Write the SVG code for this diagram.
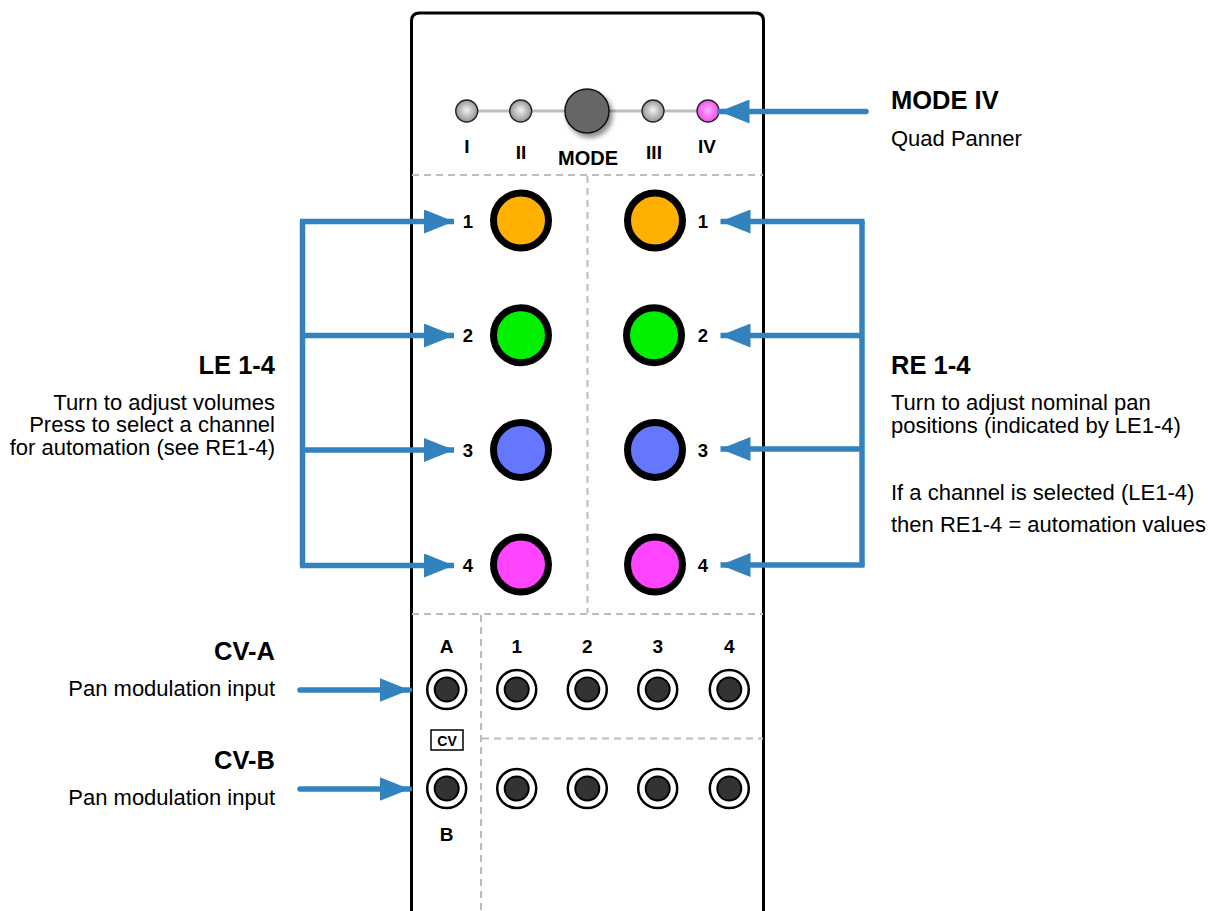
<svg xmlns="http://www.w3.org/2000/svg" width="1216" height="911" viewBox="0 0 1216 911">
<defs>
<radialGradient id="gLed" cx="50%" cy="50%" r="55%" fx="50%" fy="45%">
<stop offset="0" stop-color="#f4f4f4"/>
<stop offset="1" stop-color="#8a8a8a"/>
</radialGradient>
<radialGradient id="pLed" cx="50%" cy="50%" r="55%" fx="50%" fy="45%">
<stop offset="0" stop-color="#ffb0ff"/>
<stop offset="1" stop-color="#ee44ee"/>
</radialGradient>
<filter id="shadow" x="-50%" y="-50%" width="200%" height="200%">
<feDropShadow dx="3" dy="4" stdDeviation="2.5" flood-color="#000" flood-opacity="0.45"/>
</filter>
<marker id="ah" viewBox="0 0 30 24" refX="30" refY="12" markerWidth="30" markerHeight="24" markerUnits="userSpaceOnUse" orient="auto">
<path d="M0,0 L30,12 L0,24 Z" fill="#3182bd"/>
</marker>
</defs>
<style>
.t{font-family:"Liberation Sans",Arial,Helvetica,sans-serif;fill:#000}
.b{font-weight:bold}
.title{font-size:25.5px;font-weight:bold}
.desc{font-size:22px}
.lbl{font-size:19px;font-weight:bold;text-anchor:middle}
.num{font-size:18.5px;font-weight:bold;text-anchor:middle}
.dash{stroke:#bdbdbd;stroke-width:2;stroke-dasharray:7,5;fill:none}
.knob{stroke:#000;stroke-width:7}
.jo{fill:#fff;stroke:#000;stroke-width:2.5}
.ji{fill:#333;stroke:#000;stroke-width:2}
.led{stroke:#222;stroke-width:1.3}
.conn{stroke:#3182bd;stroke-width:5.5;fill:none}
</style>
<rect width="1216" height="911" fill="#fff"/>

<g id="panel">
<path d="M411.5,930 L411.5,21 Q411.5,13 419.5,13 L755.5,13 Q763.5,13 763.5,21 L763.5,930" fill="#fff" stroke="#000" stroke-width="3"/>
<line class="dash" x1="412" y1="175" x2="763" y2="175"/>
<line class="dash" x1="587.5" y1="176" x2="587.5" y2="613"/>
<line class="dash" x1="412" y1="614" x2="763" y2="614"/>
<line class="dash" x1="481" y1="615" x2="481" y2="911"/>
<line class="dash" x1="482" y1="738.5" x2="763" y2="738.5"/>
</g>

<g id="mode-selector">
<line x1="467" y1="111" x2="708" y2="111" stroke="#bdbdbd" stroke-width="3"/>
<circle class="led" cx="466.7" cy="111" r="11" fill="url(#gLed)"/>
<circle class="led" cx="520.7" cy="111" r="11" fill="url(#gLed)"/>
<circle cx="587" cy="111" r="22" fill="#666" stroke="#111" stroke-width="1.5" filter="url(#shadow)"/>
<circle class="led" cx="653" cy="111" r="11" fill="url(#gLed)"/>
<circle class="led" cx="708" cy="111" r="11" fill="url(#pLed)"/>
<text class="t lbl" x="467" y="153">I</text>
<text class="t lbl" x="521" y="159">II</text>
<text class="t lbl" x="588" y="165" style="font-size:20px">MODE</text>
<text class="t lbl" x="654" y="159">III</text>
<text class="t lbl" x="707" y="153">IV</text>
</g>

<g id="left-encoders">
<circle class="knob" cx="521" cy="220.5" r="27.5" fill="#ffb000"/>
<circle class="knob" cx="521" cy="335.2" r="27.5" fill="#00f000"/>
<circle class="knob" cx="521" cy="449.9" r="27.5" fill="#6677ff"/>
<circle class="knob" cx="521" cy="564.6" r="27.5" fill="#ff44ff"/>
<text class="t num" x="468" y="227.5">1</text>
<text class="t num" x="468" y="342">2</text>
<text class="t num" x="468" y="457">3</text>
<text class="t num" x="468" y="571.5">4</text>
</g>

<g id="right-encoders">
<circle class="knob" cx="655" cy="220.5" r="27.5" fill="#ffb000"/>
<circle class="knob" cx="654" cy="335.2" r="27.5" fill="#00f000"/>
<circle class="knob" cx="655" cy="449.9" r="27.5" fill="#6677ff"/>
<circle class="knob" cx="655" cy="564.6" r="27.5" fill="#ff44ff"/>
<text class="t num" x="703" y="227.5">1</text>
<text class="t num" x="703" y="342">2</text>
<text class="t num" x="703" y="457">3</text>
<text class="t num" x="703" y="571.5">4</text>
</g>

<g id="jacks">
<text class="t lbl" x="446.7" y="653.3">A</text>
<text class="t lbl" x="516.7" y="653.3">1</text>
<text class="t lbl" x="587.3" y="653.3">2</text>
<text class="t lbl" x="657.7" y="653.3">3</text>
<text class="t lbl" x="729.3" y="653.3">4</text>
<circle class="jo" cx="446.7" cy="689.5" r="19.5"/><circle class="ji" cx="446.7" cy="689.5" r="12"/>
<circle class="jo" cx="516.7" cy="689.5" r="19.5"/><circle class="ji" cx="516.7" cy="689.5" r="12"/>
<circle class="jo" cx="587.3" cy="689.5" r="19.5"/><circle class="ji" cx="587.3" cy="689.5" r="12"/>
<circle class="jo" cx="657.7" cy="689.5" r="19.5"/><circle class="ji" cx="657.7" cy="689.5" r="12"/>
<circle class="jo" cx="729.3" cy="689.5" r="19.5"/><circle class="ji" cx="729.3" cy="689.5" r="12"/>
<rect x="431" y="730" width="32" height="20" fill="#fff" stroke="#000" stroke-width="1.5"/>
<text class="t b" x="447" y="746" text-anchor="middle" style="font-size:14px">CV</text>
<circle class="jo" cx="446.7" cy="788.5" r="19.5"/><circle class="ji" cx="446.7" cy="788.5" r="12"/>
<circle class="jo" cx="516.7" cy="788.5" r="19.5"/><circle class="ji" cx="516.7" cy="788.5" r="12"/>
<circle class="jo" cx="587.3" cy="788.5" r="19.5"/><circle class="ji" cx="587.3" cy="788.5" r="12"/>
<circle class="jo" cx="657.7" cy="788.5" r="19.5"/><circle class="ji" cx="657.7" cy="788.5" r="12"/>
<circle class="jo" cx="729.3" cy="788.5" r="19.5"/><circle class="ji" cx="729.3" cy="788.5" r="12"/>
<text class="t lbl" x="446.7" y="840.7">B</text>
</g>

<g id="connectors">
<path class="conn" d="M302.5,221 V566"/>
<line class="conn" x1="300" y1="221.5" x2="454" y2="221.5" marker-end="url(#ah)"/>
<line class="conn" x1="302.5" y1="335.5" x2="454" y2="335.5" marker-end="url(#ah)"/>
<line class="conn" x1="302.5" y1="450" x2="454" y2="450" marker-end="url(#ah)"/>
<line class="conn" x1="300" y1="565.5" x2="454" y2="565.5" marker-end="url(#ah)"/>
<path class="conn" d="M862,221 V566"/>
<line class="conn" x1="864.5" y1="221.5" x2="720.5" y2="221.5" marker-end="url(#ah)"/>
<line class="conn" x1="862" y1="335.5" x2="720.5" y2="335.5" marker-end="url(#ah)"/>
<line class="conn" x1="862" y1="449" x2="720.5" y2="449" marker-end="url(#ah)"/>
<line class="conn" x1="864.5" y1="565" x2="720.5" y2="565" marker-end="url(#ah)"/>
<line class="conn" x1="866" y1="111.5" x2="719.5" y2="111.5" stroke-linecap="round" marker-end="url(#ah)"/>
<line class="conn" x1="300" y1="690" x2="409.5" y2="690" stroke-linecap="round" marker-end="url(#ah)"/>
<line class="conn" x1="300" y1="789" x2="409.5" y2="789" stroke-linecap="round" marker-end="url(#ah)"/>
</g>

<g id="label-mode-iv">
<text class="t title" x="891" y="109">MODE IV</text>
<text class="t desc" x="891" y="146">Quad Panner</text>
</g>

<g id="label-le">
<text class="t title" x="275" y="374" text-anchor="end">LE 1-4</text>
<text class="t desc" x="275" y="409.5" text-anchor="end">Turn to adjust volumes</text>
<text class="t desc" x="275" y="432.3" text-anchor="end">Press to select a channel</text>
<text class="t desc" x="275" y="455" text-anchor="end">for automation (see RE1-4)</text>
</g>

<g id="label-re">
<text class="t title" x="891" y="374">RE 1-4</text>
<text class="t desc" x="891" y="409.5">Turn to adjust nominal pan</text>
<text class="t desc" x="891" y="433">positions (indicated by LE1-4)</text>
<text class="t desc" x="891" y="499.5">If a channel is selected (LE1-4)</text>
<text class="t desc" x="891" y="531.5">then RE1-4 = automation values</text>
</g>

<g id="label-cv-a">
<text class="t title" x="275" y="660" text-anchor="end">CV-A</text>
<text class="t desc" x="275" y="695.5" text-anchor="end">Pan modulation input</text>
</g>

<g id="label-cv-b">
<text class="t title" x="275" y="769" text-anchor="end">CV-B</text>
<text class="t desc" x="275" y="804.5" text-anchor="end">Pan modulation input</text>
</g>
</svg>
